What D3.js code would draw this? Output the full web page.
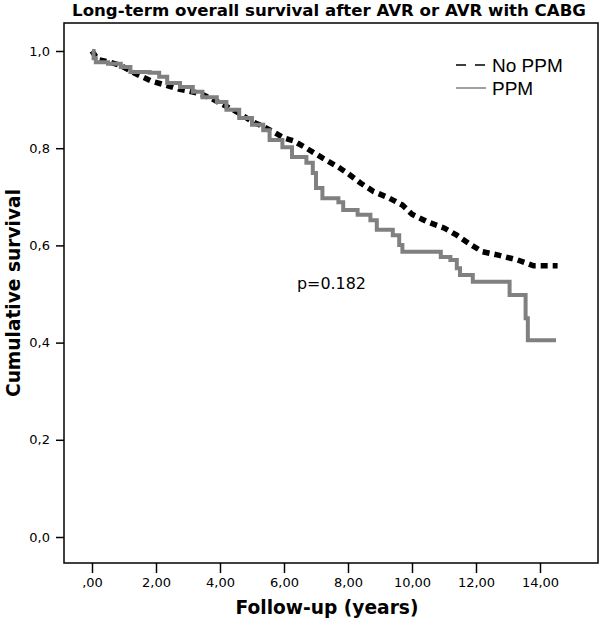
<!DOCTYPE html>
<html><head><meta charset="utf-8">
<script src="https://cdn.jsdelivr.net/npm/d3@7"></script>
<style>body{margin:0;background:#fff} svg{display:block}</style>
</head><body><svg id="c" width="600" height="621"></svg>
<script>
const chartTitle = "Long-term overall survival after AVR or AVR with CABG";
const xTitle = "Follow-up (years)";
const yTitle = "Cumulative survival";
const seriesNames = ["No PPM", "PPM"];
const pValueText = "p=0.182";
const xTicks = [0, 2, 4, 6, 8, 10, 12, 14];
const xTickLabels = [",00", "2,00", "4,00", "6,00", "8,00", "10,00", "12,00", "14,00"];
const yTicks = [0, 0.2, 0.4, 0.6, 0.8, 1.0];
const yTickLabels = ["0,0", "0,2", "0,4", "0,6", "0,8", "1,0"];

const noPpmTime = [0, 0.1, 0.2, 0.5, 0.9, 1.4, 1.9, 2.3, 2.75, 3.0, 3.4, 3.8, 4.2, 4.6, 5.0, 5.3, 5.6, 6.0, 6.3, 6.7, 7.2, 7.7, 8.0, 8.4, 8.8, 9.3, 9.7, 10.0, 10.5, 11.0, 11.4, 11.8, 12.2, 12.7, 13.3, 13.8, 14.55];
const noPpmSurv = [1.0, 0.99, 0.982, 0.978, 0.970, 0.952, 0.937, 0.930, 0.921, 0.918, 0.912, 0.900, 0.886, 0.872, 0.855, 0.846, 0.836, 0.821, 0.815, 0.800, 0.780, 0.761, 0.748, 0.728, 0.711, 0.697, 0.683, 0.664, 0.648, 0.636, 0.621, 0.603, 0.587, 0.580, 0.570, 0.558, 0.558];

const ppmTime = [0, 0.05, 0.12, 0.5, 0.9, 1.2, 1.8, 2.1, 2.35, 2.75, 3.15, 3.45, 3.9, 4.2, 4.6, 5.0, 5.35, 5.55, 5.95, 6.25, 6.7, 6.9, 7.0, 7.2, 7.7, 7.85, 8.3, 8.7, 8.9, 9.4, 9.6, 9.7, 10.9, 11.2, 11.4, 11.5, 11.9, 13.05, 13.55, 13.62, 14.5];
const ppmSurv = [1.0, 0.985, 0.977, 0.974, 0.967, 0.957, 0.955, 0.947, 0.934, 0.926, 0.916, 0.905, 0.895, 0.879, 0.862, 0.848, 0.837, 0.817, 0.802, 0.782, 0.770, 0.749, 0.718, 0.697, 0.689, 0.673, 0.663, 0.652, 0.632, 0.621, 0.601, 0.587, 0.576, 0.570, 0.553, 0.539, 0.525, 0.498, 0.450, 0.405, 0.405];

const svg = d3.select("#c");
const frame = {left: 64, right: 598, top: 23, bottom: 563};
const x = d3.scaleLinear().domain([0, 14]).range([92, 540]);
const y = d3.scaleLinear().domain([0, 1]).range([537, 51]);
const tickFont = "'DejaVu Sans', sans-serif";
const boldFont = "'DejaVu Sans', sans-serif";

function fit(sel, target) {
  const w = sel.node().getComputedTextLength();
  const fs = parseFloat(sel.attr("font-size"));
  sel.attr("font-size", (fs * target / w).toFixed(2));
  return fs * target / w;
}

// frame
svg.append("rect").attr("x", frame.left).attr("y", frame.top)
  .attr("width", frame.right - frame.left).attr("height", frame.bottom - frame.top)
  .attr("fill", "none").attr("stroke", "#000").attr("stroke-width", 1.5);

// axes
const ya = svg.append("g").attr("transform", `translate(${frame.left},0)`)
  .call(d3.axisLeft(y).tickValues(yTicks).tickFormat((d, i) => yTickLabels[i]).tickSize(8).tickPadding(6));
const xa = svg.append("g").attr("transform", `translate(0,${frame.bottom})`)
  .call(d3.axisBottom(x).tickValues(xTicks).tickFormat((d, i) => xTickLabels[i]).tickSize(10).tickPadding(5));
[ya, xa].forEach(a => {
  a.select(".domain").remove();
  a.selectAll(".tick line").attr("stroke", "#000").attr("stroke-width", 1.5);
  a.selectAll(".tick text").attr("font-family", tickFont).attr("font-size", 13).attr("fill", "#000");
});

// curves
const stepLine = d3.line().x(d => x(d[0])).y(d => y(d[1])).curve(d3.curveStepAfter);
const smoothLine = d3.line().x(d => x(d[0])).y(d => y(d[1])).curve(d3.curveLinear);
const noPpm = noPpmTime.map((t, i) => [t, noPpmSurv[i]]);
const ppm = ppmTime.map((t, i) => [t, ppmSurv[i]]);
svg.append("path").attr("d", smoothLine(noPpm)).attr("fill", "none")
  .attr("stroke", "#000").attr("stroke-width", 5.5).attr("stroke-dasharray", "7,5");
svg.append("path").attr("d", stepLine(ppm)).attr("fill", "none")
  .attr("stroke", "#808080").attr("stroke-width", 4);

// title
const t = svg.append("text").attr("x", 329).attr("y", 16).attr("text-anchor", "middle")
  .attr("font-family", boldFont).attr("font-weight", "bold").attr("font-size", 18).text(chartTitle);
fit(t, 514);

// axis titles
const xt = svg.append("text").attr("x", 327).attr("y", 614).attr("text-anchor", "middle")
  .attr("font-family", boldFont).attr("font-weight", "bold").attr("font-size", 19).text(xTitle);
const afs = fit(xt, 183);
svg.append("text").attr("transform", `translate(20,${(frame.top + frame.bottom) / 2}) rotate(-90)`)
  .attr("text-anchor", "middle").attr("font-family", boldFont).attr("font-weight", "bold")
  .attr("font-size", afs.toFixed(2)).text(yTitle);

// legend
const lg = svg.append("g");
lg.append("line").attr("x1", 456).attr("x2", 486).attr("y1", 65).attr("y2", 65)
  .attr("stroke", "#000").attr("stroke-width", 1.5).attr("stroke-dasharray", "10,9");
lg.append("line").attr("x1", 456).attr("x2", 486).attr("y1", 88).attr("y2", 88)
  .attr("stroke", "#808080").attr("stroke-width", 1.5);
lg.append("text").attr("x", 492).attr("y", 72).attr("font-family", "'Liberation Sans', sans-serif")
  .attr("font-size", 19).attr("fill", "#000").text(seriesNames[0]);
lg.append("text").attr("x", 492).attr("y", 95).attr("font-family", "'Liberation Sans', sans-serif")
  .attr("font-size", 19).attr("fill", "#000").text(seriesNames[1]);

// p value
const pv = svg.append("text").attr("x", 297).attr("y", 289).attr("font-family", tickFont)
  .attr("font-size", 15).attr("fill", "#000").text(pValueText);
fit(pv, 69);
</script></body></html>
